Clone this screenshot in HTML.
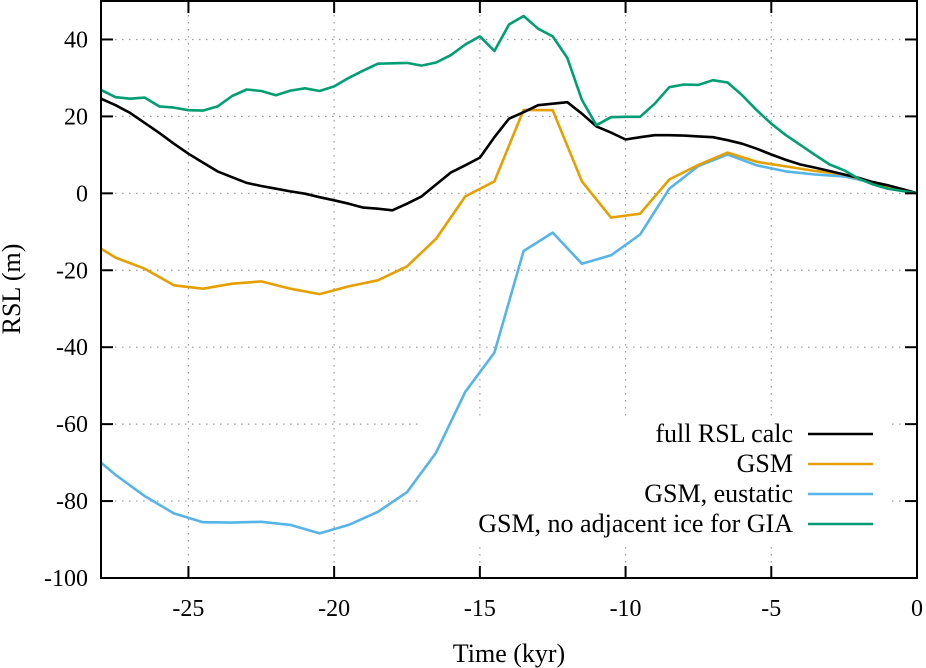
<!DOCTYPE html>
<html><head><meta charset="utf-8"><style>
html,body{margin:0;padding:0;background:#fff;}
svg{display:block;font-family:"Liberation Serif",serif;}
</style></head><body>
<svg id="chart" width="926" height="668" viewBox="0 0 926 668" xmlns="http://www.w3.org/2000/svg">
<g id="grid"></g>
<rect x="420" y="418" width="468" height="125" fill="#fff"/>
<g id="series"></g>
<rect x="101" y="1" width="816" height="577" fill="none" stroke="#000" stroke-width="2"/>
<g id="ticks"></g>
<text x="509" y="662" font-size="26" text-anchor="middle">Time (kyr)</text>
<text x="20" y="289" font-size="26" text-anchor="middle" transform="rotate(-90 20 289)">RSL (m)</text>
<g id="legend"></g>
</svg>
<script>
const tHalf = [-28,-27.5,-27,-26.5,-26,-25.5,-25,-24.5,-24,-23.5,-23,-22.5,-22,-21.5,-21,-20.5,-20,-19.5,-19,-18.5,-18,-17.5,-17,-16.5,-16,-15.5,-15,-14.5,-14,-13.5,-13,-12.5,-12,-11.5,-11,-10.5,-10,-9.5,-9,-8.5,-8,-7.5,-7,-6.5,-6,-5.5,-5,-4.5,-4,-3.5,-3,-2.5,-2,-1.5,-1,-0.5,0];
const fullRSL = [24.6,22.9,20.9,18.3,15.7,12.9,10.3,8.0,5.7,4.2,2.7,1.9,1.2,0.5,-0.1,-1.0,-1.8,-2.7,-3.7,-4.0,-4.4,-2.7,-0.8,2.3,5.4,7.3,9.3,14.6,19.4,21.1,22.9,23.3,23.7,20.7,17.4,15.8,14.0,14.6,15.1,15.1,15.0,14.8,14.6,13.8,12.9,11.6,10.1,8.7,7.5,6.7,5.8,4.9,4.0,2.9,2.1,1.1,0];
const noAdjIce = [26.9,25.0,24.6,24.9,22.6,22.3,21.6,21.5,22.6,25.3,27.0,26.6,25.5,26.7,27.3,26.6,27.8,30.0,31.9,33.7,33.8,33.9,33.2,34.0,35.9,38.7,40.8,37.0,43.9,46.1,42.8,40.8,35.2,24.3,17.7,19.8,19.9,19.9,23.3,27.6,28.3,28.2,29.4,28.8,25.5,21.6,18.1,15.1,12.6,10.0,7.5,6.0,3.8,2.3,1.2,0.6,0];
const tGsm = [-28,-27.5,-26.5,-25.5,-24.5,-23.5,-22.5,-21.5,-20.5,-19.5,-18.5,-17.5,-16.5,-15.5,-14.5,-13.5,-12.5,-11.5,-10.5,-9.5,-8.5,-7.5,-6.5,-5.5,-4.5,-3.5,-2.5,-1.5,-0.5,0];
const gsm = [-14.4,-16.7,-19.6,-23.9,-24.8,-23.5,-22.9,-24.8,-26.2,-24.2,-22.6,-19.0,-11.8,-0.8,3.1,21.7,21.6,3.1,-6.3,-5.3,3.6,7.4,10.6,8.2,7.0,5.8,4.9,2.7,0.8,0];
const eustatic = [-70.0,-73.2,-78.7,-83.2,-85.5,-85.6,-85.4,-86.2,-88.4,-86.2,-82.8,-77.7,-67.4,-51.6,-41.4,-15.0,-10.2,-18.3,-16.1,-10.7,1.2,7.1,10.1,7.3,5.7,4.9,4.4,2.7,1.0,0];
const xTicks = [-25,-20,-15,-10,-5,0];
const yTicks = [-100,-80,-60,-40,-20,0,20,40];
const legendLabels = ["full RSL calc","GSM","GSM, eustatic","GSM, no adjacent ice for GIA"];

const NS="http://www.w3.org/2000/svg";
const X0=101,X1=917,Y0=1,Y1=578;
function xs(t){return X1+(t-0)*(X1-X0)/28;}
function ys(v){return Y1-(v+100)*(Y1-Y0)/150;}
function mk(tag,attrs,parent){const e=document.createElementNS(NS,tag);for(const k in attrs)e.setAttribute(k,attrs[k]);parent.appendChild(e);return e;}
const grid=document.getElementById('grid'),ticks=document.getElementById('ticks'),series=document.getElementById('series'),legend=document.getElementById('legend');
xTicks.forEach(t=>{
  const x=xs(t);
  if(t>-28&&t<0){
    const g=mk('line',{x1:x,y1:Y0,x2:x,y2:Y1,stroke:'#999','stroke-width':1.2,'stroke-dasharray':'1.5,5.5'},grid);
    
    
    const a=mk('line',{x1:x,y1:Y1,x2:x,y2:Y1-12,stroke:'#000','stroke-width':2},ticks);
    
    
    const b=mk('line',{x1:x,y1:Y0,x2:x,y2:Y0+12,stroke:'#000','stroke-width':2},ticks);
    
    
  }
  const l=mk('text',{x:x,y:616,'font-size':24,'text-anchor':'middle'},ticks);
  l.textContent=t;
  
  
});
yTicks.forEach(v=>{
  const y=ys(v);
  if(v>-100){
    const g=mk('line',{x1:X0,y1:y,x2:X1,y2:y,stroke:'#999','stroke-width':1.2,'stroke-dasharray':'1.5,5.5'},grid);
    
    
    const a=mk('line',{x1:X0,y1:y,x2:X0+12,y2:y,stroke:'#000','stroke-width':2},ticks);
    
    
    const b=mk('line',{x1:X1,y1:y,x2:X1-12,y2:y,stroke:'#000','stroke-width':2},ticks);
    
    
  }
  const l=mk('text',{x:88,y:y+8,'font-size':24,'text-anchor':'end'},ticks);
  l.textContent=v;
  
  
});
const defs=[[tHalf,fullRSL,'#000000','line-full-rsl'],[tGsm,gsm,'#E69F00','line-gsm'],[tGsm,eustatic,'#56B4E9','line-gsm-eustatic'],[tHalf,noAdjIce,'#009E73','line-gsm-no-adjacent-ice']];
const order=[2,1,0,3];
order.forEach(i=>{
  const [ts,vs,c,n]=defs[i];
  const p=mk('polyline',{points:ts.map((t,j)=>xs(t).toFixed(1)+','+ys(vs[j]).toFixed(1)).join(' '),fill:'none',stroke:c,'stroke-width':2.6,'stroke-linejoin':'round'},series);
  
  
});
const ly=[434,464,494,524];
legendLabels.forEach((s,i)=>{
  const t=mk('text',{x:793,y:ly[i]+8,'font-size':26,'text-anchor':'end'},legend);
  t.textContent=s;
  
  
  const l=mk('line',{x1:808,y1:ly[i],x2:873,y2:ly[i],stroke:defs[i][2],'stroke-width':2.6},legend);
  
  
});
</script>
</body></html>
